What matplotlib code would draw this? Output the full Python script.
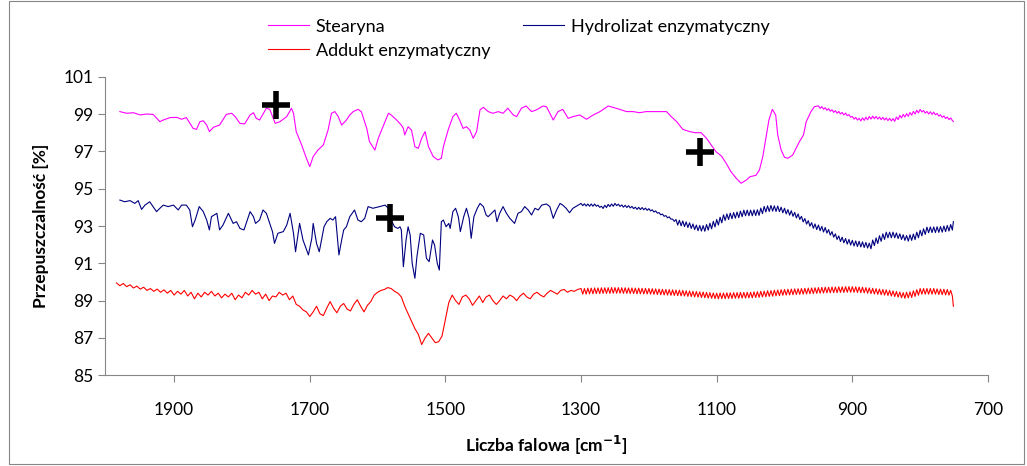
import numpy as np
import matplotlib
matplotlib.use('Agg')
import matplotlib.pyplot as plt
from matplotlib.patches import Rectangle

plt.rcParams['font.family'] = ['Lato', 'DejaVu Sans']

# FTIR spectra, wavenumber [cm-1] vs transmittance [%]
# fingerprint region read point by point, flat tails sampled on a 2.5 / 5 cm-1 grid

stearyna_wn_a = [1980, 1970, 1960, 1950, 1941, 1931, 1921, 1916, 1906, 1896, 1889, 1882,
                 1872, 1867, 1862, 1857, 1852, 1848, 1842, 1833, 1823, 1815, 1810, 1803,
                 1796, 1788, 1783, 1779, 1774, 1764, 1759, 1751, 1744, 1734, 1727, 1724,
                 1720, 1712, 1705, 1700, 1695, 1688, 1680, 1673, 1668, 1663, 1658, 1653,
                 1646, 1641, 1636, 1629, 1624, 1616, 1612, 1604, 1599, 1592, 1584, 1580,
                 1572, 1565, 1562, 1560, 1555, 1550, 1545, 1540, 1535, 1530, 1525, 1518,
                 1511, 1506, 1503, 1496, 1489, 1484, 1479, 1474, 1469, 1464, 1459, 1454,
                 1449, 1444, 1437, 1430, 1422, 1415, 1408, 1400, 1395, 1388, 1381, 1373,
                 1366, 1356, 1351, 1346, 1341, 1334, 1327, 1319, 1312, 1302, 1292, 1282,
                 1272, 1260, 1253, 1243, 1233, 1223, 1214, 1204, 1194, 1179, 1174, 1167,
                 1159, 1150, 1140, 1132, 1123, 1115, 1108, 1101, 1093, 1086, 1079, 1071,
                 1064, 1056, 1051, 1042, 1037, 1032, 1027, 1023, 1018, 1013, 1010, 1005,
                 1000, 995, 988, 983, 978, 972, 968, 961, 956]
stearyna_t_a = [99.13, 99.04, 99.07, 98.95, 99.00, 98.98, 98.59, 98.68, 98.81, 98.82, 98.72, 98.81,
                98.23, 98.18, 98.59, 98.64, 98.41, 98.06, 98.29, 98.41, 98.98, 99.04, 98.86, 98.50,
                98.47, 98.95, 99.07, 98.77, 98.68, 99.31, 99.25, 98.50, 98.59, 98.86, 99.31, 99.04,
                98.06, 97.34, 96.63, 96.18, 96.72, 97.07, 97.34, 98.15, 99.04, 99.13, 98.86, 98.41,
                98.68, 98.95, 99.13, 99.25, 99.13, 98.23, 97.52, 97.07, 97.70, 98.32, 99.04, 98.95,
                98.68, 98.41, 98.23, 97.88, 98.32, 98.14, 97.25, 97.16, 97.70, 98.06, 97.25, 96.72,
                96.54, 96.63, 97.25, 98.14, 98.86, 99.04, 98.68, 98.23, 98.32, 98.14, 97.70, 98.06,
                99.22, 99.36, 99.13, 99.04, 99.13, 99.04, 99.31, 98.95, 98.86, 99.31, 99.43, 99.13,
                99.22, 99.43, 99.39, 99.04, 98.68, 99.13, 99.25, 98.77, 98.86, 98.95, 98.72, 98.95,
                99.13, 99.43, 99.36, 99.25, 99.13, 99.13, 99.07, 99.13, 99.13, 99.13, 99.13, 98.86,
                98.59, 98.18, 98.06, 98.00, 98.00, 97.70, 97.34, 96.98, 96.75, 96.36, 95.91, 95.55,
                95.29, 95.47, 95.64, 95.72, 96.00, 96.72, 97.79, 98.68, 99.25, 98.95, 97.88, 97.07,
                96.68, 96.63, 96.80, 97.16, 97.52, 97.88, 98.59, 99.13, 99.39]
stearyna_wn_b = np.arange(950, 752, -2.5)
stearyna_t_b = [99.44, 99.30, 99.40, 99.26, 99.34, 99.20, 99.29, 99.15, 99.23, 99.09,
                99.18, 99.04, 99.14, 99.00, 99.09, 98.95, 99.05, 98.91, 98.97, 98.83,
                98.87, 98.73, 98.82, 98.68, 98.77, 98.63, 98.80, 98.66, 98.83, 98.69,
                98.87, 98.73, 98.89, 98.75, 98.87, 98.73, 98.84, 98.70, 98.82, 98.68,
                98.79, 98.65, 98.77, 98.63, 98.75, 98.61, 98.84, 98.70, 98.93, 98.79,
                98.98, 98.84, 99.02, 98.88, 99.08, 98.94, 99.14, 99.00, 99.20, 99.06,
                99.25, 99.11, 99.19, 99.05, 99.14, 99.00, 99.12, 98.98, 99.10, 98.96,
                99.03, 98.89, 98.96, 98.82, 98.90, 98.76, 98.84, 98.70, 98.79, 98.65]

hydrolizat_wn_a = [1980, 1973, 1965, 1958, 1953, 1948, 1943, 1936, 1931, 1926, 1921, 1916,
                   1909, 1901, 1894, 1889, 1882, 1877, 1873, 1869, 1863, 1857, 1852, 1848,
                   1845, 1837, 1833, 1828, 1820, 1813, 1808, 1803, 1797, 1793, 1788, 1783,
                   1780, 1774, 1769, 1764, 1759, 1755, 1752, 1747, 1739, 1734, 1729, 1724,
                   1721, 1715, 1710, 1702, 1697, 1695, 1690, 1686, 1679, 1675, 1670, 1666,
                   1662, 1657, 1653, 1650, 1646, 1641, 1634, 1629, 1624, 1619, 1614, 1607,
                   1597, 1589, 1584, 1580, 1575, 1570, 1567, 1565, 1562, 1558, 1555, 1552,
                   1549, 1545, 1542, 1537, 1532, 1528, 1524, 1519, 1516, 1512, 1509, 1506,
                   1503, 1499, 1495, 1493, 1489, 1485, 1481, 1478, 1473, 1469, 1465, 1462,
                   1458, 1453, 1449, 1444, 1440, 1437, 1432, 1427, 1424, 1420, 1415, 1410,
                   1405, 1398, 1393, 1388, 1383, 1378, 1373, 1368, 1363, 1358, 1351, 1346,
                   1341, 1336, 1331, 1327, 1322, 1317, 1312, 1305]
hydrolizat_t_a = [94.39, 94.30, 94.36, 94.21, 94.36, 93.89, 94.12, 94.30, 94.04, 93.77, 93.95, 94.12,
                  94.04, 94.12, 93.86, 94.12, 94.12, 93.86, 92.96, 93.32, 94.04, 93.77, 93.32, 92.79,
                  93.50, 93.68, 92.79, 93.05, 93.68, 93.14, 93.23, 92.87, 92.79, 93.23, 93.77, 93.50,
                  93.14, 93.32, 93.86, 93.68, 93.14, 92.70, 92.07, 92.61, 92.70, 93.05, 93.68, 92.61,
                  91.62, 93.14, 92.25, 91.45, 92.34, 93.14, 92.07, 91.62, 92.96, 93.23, 93.41, 93.32,
                  93.50, 91.45, 92.25, 92.79, 92.96, 93.50, 93.86, 93.32, 93.23, 93.41, 94.04, 93.95,
                  94.04, 94.12, 93.95, 93.32, 92.96, 92.87, 92.96, 92.79, 90.82, 92.25, 92.96, 92.52,
                  91.00, 90.20, 91.36, 92.61, 92.52, 91.27, 91.09, 92.25, 91.98, 91.00, 90.64, 93.23,
                  93.32, 92.96, 93.14, 92.87, 93.77, 93.95, 93.50, 92.70, 93.50, 93.95, 93.41, 92.34,
                  93.50, 93.95, 94.21, 94.04, 93.59, 93.50, 93.68, 93.86, 93.23, 93.68, 94.04, 93.68,
                  93.41, 93.14, 93.68, 93.77, 94.04, 93.86, 93.59, 93.95, 93.86, 94.12, 94.18, 94.04,
                  93.41, 93.86, 94.21, 94.12, 93.95, 93.71, 93.95, 94.10]
hydrolizat_wn_b = np.arange(1300, 752, -2.5)
hydrolizat_t_b = [94.21, 94.09, 94.19, 94.07, 94.18, 94.06, 94.18, 94.06, 94.18, 94.06,
                  94.12, 94.00, 94.06, 93.94, 94.11, 93.99, 94.16, 94.04, 94.18, 94.06,
                  94.21, 94.09, 94.17, 94.05, 94.13, 94.01, 94.11, 93.99, 94.09, 93.97,
                  94.05, 93.93, 94.01, 93.89, 94.00, 93.88, 93.99, 93.87, 93.96, 93.84,
                  93.93, 93.81, 93.87, 93.75, 93.81, 93.69, 93.72, 93.60, 93.64, 93.52,
                  93.56, 93.44, 93.49, 93.37, 93.37, 93.25, 93.35, 93.05, 93.31, 93.01,
                  93.27, 92.97, 93.22, 92.92, 93.17, 92.87, 93.11, 92.81, 93.05, 92.75,
                  93.03, 92.73, 93.02, 92.72, 93.08, 92.78, 93.15, 92.85, 93.25, 92.95,
                  93.35, 93.05, 93.47, 93.17, 93.60, 93.30, 93.65, 93.35, 93.69, 93.39,
                  93.72, 93.42, 93.75, 93.45, 93.80, 93.50, 93.85, 93.55, 93.85, 93.55,
                  93.85, 93.55, 93.86, 93.56, 93.87, 93.57, 93.96, 93.66, 94.05, 93.75,
                  94.08, 93.78, 94.10, 93.80, 94.08, 93.78, 94.07, 93.77, 94.01, 93.71,
                  93.95, 93.65, 93.88, 93.58, 93.82, 93.52, 93.73, 93.43, 93.65, 93.35,
                  93.52, 93.22, 93.40, 93.10, 93.29, 92.99, 93.18, 92.88, 93.11, 92.81,
                  93.05, 92.75, 92.98, 92.68, 92.92, 92.62, 92.81, 92.51, 92.70, 92.40,
                  92.58, 92.28, 92.47, 92.17, 92.40, 92.10, 92.33, 92.03, 92.28, 91.98,
                  92.23, 91.93, 92.20, 91.90, 92.18, 91.88, 92.15, 91.85, 92.12, 91.82,
                  92.08, 91.78, 92.25, 91.95, 92.36, 92.06, 92.48, 92.18, 92.58, 92.28,
                  92.67, 92.37, 92.67, 92.37, 92.67, 92.37, 92.63, 92.33, 92.58, 92.28,
                  92.53, 92.23, 92.49, 92.19, 92.53, 92.23, 92.57, 92.27, 92.67, 92.37,
                  92.77, 92.47, 92.85, 92.55, 92.94, 92.64, 92.95, 92.65, 92.95, 92.65,
                  92.96, 92.66, 92.97, 92.67, 93.00, 92.70, 93.03, 92.73, 93.08, 92.78]

addukt_wn_a = np.arange(1985, 1302, -5)
addukt_t_a = [89.95, 89.80, 89.92, 89.75, 89.85, 89.68, 89.78, 89.62, 89.72, 89.55,
              89.65, 89.50, 89.62, 89.45, 89.58, 89.40, 89.55, 89.30, 89.50, 89.35,
              89.55, 89.25, 89.45, 89.10, 89.40, 89.20, 89.45, 89.30, 89.50, 89.25,
              89.40, 89.15, 89.35, 89.20, 89.40, 89.05, 89.30, 89.15, 89.45, 89.30,
              89.55, 89.35, 89.45, 89.10, 89.35, 89.00, 89.25, 89.20, 89.45, 89.30,
              89.40, 89.05, 89.25, 88.80, 88.70, 88.50, 88.40, 88.15, 88.40, 88.70,
              88.30, 88.20, 88.60, 88.95, 88.60, 88.35, 88.70, 88.85, 88.55, 88.45,
              88.80, 89.05, 88.70, 88.40, 88.75, 88.95, 89.30, 89.45, 89.55, 89.60,
              89.70, 89.65, 89.50, 89.40, 89.20, 88.70, 88.30, 87.90, 87.50, 87.20,
              86.65, 87.00, 87.25, 87.00, 86.75, 86.80, 87.10, 88.00, 88.90, 89.30,
              89.00, 88.80, 89.20, 89.30, 89.10, 88.75, 89.00, 89.25, 88.90, 89.20,
              89.30, 89.00, 88.80, 89.00, 89.25, 89.10, 89.30, 89.20, 89.00, 89.25,
              89.40, 89.20, 89.10, 89.35, 89.45, 89.30, 89.20, 89.40, 89.55, 89.45,
              89.35, 89.55, 89.60, 89.45, 89.55, 89.50, 89.60]
addukt_wn_b = np.arange(1300, 752, -2.5)
addukt_t_b = [89.65, 89.35, 89.65, 89.35, 89.67, 89.37, 89.67, 89.37, 89.68, 89.38,
              89.68, 89.38, 89.69, 89.39, 89.69, 89.39, 89.69, 89.39, 89.70, 89.40,
              89.70, 89.40, 89.70, 89.40, 89.69, 89.39, 89.69, 89.39, 89.68, 89.38,
              89.68, 89.38, 89.67, 89.37, 89.67, 89.37, 89.66, 89.36, 89.66, 89.36,
              89.65, 89.35, 89.64, 89.34, 89.63, 89.33, 89.62, 89.32, 89.61, 89.31,
              89.60, 89.30, 89.59, 89.29, 89.58, 89.28, 89.57, 89.27, 89.56, 89.26,
              89.55, 89.25, 89.53, 89.23, 89.52, 89.22, 89.50, 89.20, 89.49, 89.19,
              89.47, 89.17, 89.46, 89.16, 89.44, 89.14, 89.43, 89.13, 89.41, 89.11,
              89.40, 89.10, 89.41, 89.11, 89.41, 89.11, 89.42, 89.12, 89.42, 89.12,
              89.43, 89.13, 89.43, 89.13, 89.44, 89.14, 89.44, 89.14, 89.45, 89.15,
              89.45, 89.15, 89.47, 89.17, 89.48, 89.18, 89.50, 89.20, 89.51, 89.21,
              89.53, 89.23, 89.54, 89.24, 89.56, 89.26, 89.57, 89.27, 89.59, 89.29,
              89.60, 89.30, 89.61, 89.31, 89.62, 89.32, 89.63, 89.33, 89.64, 89.34,
              89.65, 89.35, 89.66, 89.36, 89.67, 89.37, 89.68, 89.38, 89.69, 89.39,
              89.70, 89.40, 89.71, 89.41, 89.72, 89.42, 89.72, 89.42, 89.73, 89.43,
              89.73, 89.43, 89.74, 89.44, 89.74, 89.44, 89.75, 89.45, 89.75, 89.45,
              89.75, 89.45, 89.74, 89.44, 89.73, 89.43, 89.72, 89.42, 89.70, 89.40,
              89.68, 89.38, 89.66, 89.36, 89.64, 89.34, 89.62, 89.32, 89.60, 89.30,
              89.58, 89.28, 89.55, 89.25, 89.52, 89.22, 89.49, 89.19, 89.46, 89.16,
              89.43, 89.13, 89.45, 89.15, 89.47, 89.17, 89.53, 89.23, 89.59, 89.29,
              89.65, 89.35, 89.65, 89.35, 89.65, 89.35, 89.65, 89.35, 89.65, 89.35,
              89.63, 89.33, 89.62, 89.32, 89.61, 89.31, 89.60, 89.30, 89.55, 89.25]

# last recorded point of each spectrum
end_wn = 751
stearyna_end, hydrolizat_end, addukt_end = 98.60, 93.23, 88.70

# bands marked on the spectra
marker_wn = [1750, 1124, 1581]
marker_t = [99.5, 96.98, 93.41]


def join(wn_a, t_a, wn_b, t_b, t_end):
    assert len(wn_a) == len(t_a) and len(wn_b) == len(t_b)
    return (np.concatenate([wn_a, wn_b, [end_wn]]),
            np.concatenate([t_a, t_b, [t_end]]))


st_x, st_y = join(stearyna_wn_a, stearyna_t_a, stearyna_wn_b, stearyna_t_b, stearyna_end)
hy_x, hy_y = join(hydrolizat_wn_a, hydrolizat_t_a, hydrolizat_wn_b, hydrolizat_t_b, hydrolizat_end)
ad_x, ad_y = join(addukt_wn_a, addukt_t_a, addukt_wn_b, addukt_t_b, addukt_end)

fig = plt.figure(figsize=(10.27, 4.66), dpi=100)
ax = fig.add_axes([0.1022, 0.1946, 0.8598, 0.6408])

l_st, = ax.plot(st_x, st_y, color='#FF00FF', lw=0.8)
l_hy, = ax.plot(hy_x, hy_y, color='#000080', lw=0.8)
l_ad, = ax.plot(ad_x, ad_y, color='#FF0000', lw=0.8)
ax.plot(marker_wn, marker_t, ls='none', marker='+', ms=20, mew=4, color='black')

ax.set_xlim(2002, 700)
ax.set_ylim(85, 101)
ax.set_xticks([1900, 1700, 1500, 1300, 1100, 900, 700])
ax.set_yticks(range(85, 102, 2))

for side in ('top', 'right'):
    ax.spines[side].set_visible(False)
for side in ('left', 'bottom'):
    ax.spines[side].set_color('#868686')
ax.tick_params(colors='#868686', labelcolor='black', labelsize=12.5, length=5)
ax.tick_params(axis='x', pad=14)

ax.set_ylabel('Przepuszczalność [%]', fontsize=12.5, fontweight='bold', labelpad=10)
ax.set_xlabel(r'Liczba falowa [cm$^{\mathbf{-1}}$]', fontsize=12.5, fontweight='bold', labelpad=12)

# two-column legend filled row by row
fig.legend([l_st, l_ad, l_hy],
           ['Stearyna', 'Addukt enzymatyczny', 'Hydrolizat enzymatyczny'],
           loc='upper left', bbox_to_anchor=(0.245, 0.995), ncol=2, frameon=False,
           fontsize=13, handlelength=2.3, columnspacing=1.8, handletextpad=0.35,
           labelspacing=0.45)

# chart area border
fig.patches.append(Rectangle((0.009, 0.004), 0.988, 0.994, transform=fig.transFigure,
                             fill=False, edgecolor='#868686', lw=0.8))

fig.savefig('out.png', dpi=100)
